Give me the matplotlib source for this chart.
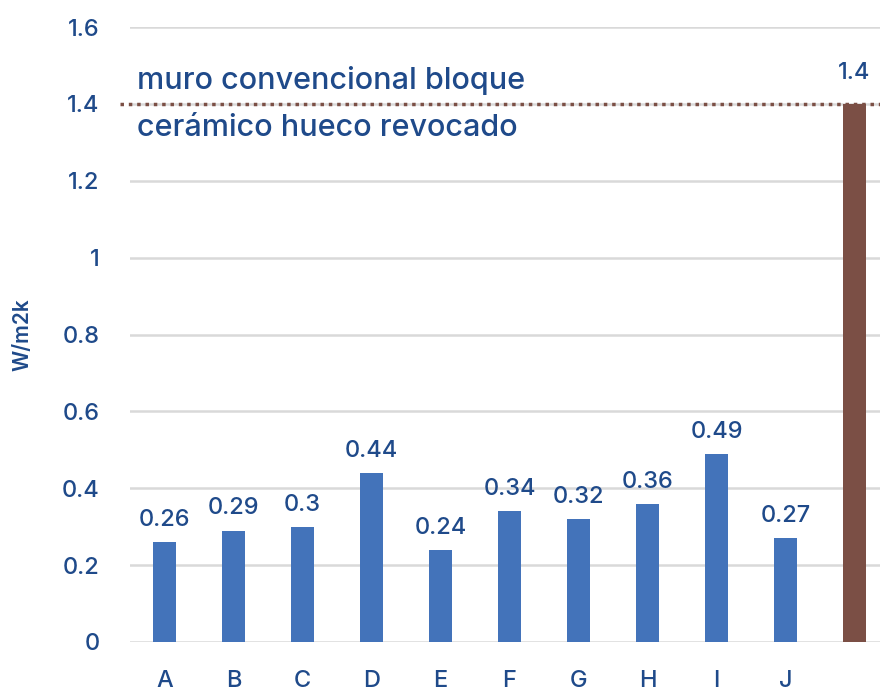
import matplotlib
matplotlib.use("Agg")
import matplotlib.pyplot as plt
import matplotlib.transforms as mtransforms

categories = ["A", "B", "C", "D", "E", "F", "G", "H", "I", "J", ""]
values = [0.26, 0.29, 0.3, 0.44, 0.24, 0.34, 0.32, 0.36, 0.49, 0.27, 1.4]
value_labels = ["0.26", "0.29", "0.3", "0.44", "0.24", "0.34", "0.32", "0.36", "0.49", "0.27", "1.4"]
yticks = [0, 0.2, 0.4, 0.6, 0.8, 1.0, 1.2, 1.4, 1.6]
ytick_labels = ["0", "0.2", "0.4", "0.6", "0.8", "1", "1.2", "1.4", "1.6"]
reference_value = 1.4
reference_text = "muro convencional bloque\ncerámico hueco revocado"

TXT = "#1F4A8A"
BLUE = "#4373BA"
BROWN = "#7B4F45"
GRID = "#D9D9D9"

plt.rcParams['font.family'] = ['Inter', 'DejaVu Sans']

W, H = 880, 693
fig = plt.figure(figsize=(W / 100, H / 100), dpi=100)
x0, x1 = 130, 880
y0, y1 = 642, 27
ax = fig.add_axes([x0 / W, 1 - y0 / H, (x1 - x0) / W, (y0 - y1) / H])

colors = [BLUE] * (len(values) - 1) + [BROWN]
xs = list(range(len(values)))
ax.bar(xs, values, width=0.32, color=colors, zorder=3)

for x, v, lab in zip(xs, values, value_labels):
    ax.annotate(lab, (x, v), xytext=(0, 8 if lab != "1.4" else 14), textcoords="offset points",
                ha="center", va="bottom", fontsize=17, color=TXT, fontweight="medium")

ax.set_xlim(-0.5, -0.5 + (x1 - x0) / 69.0)
ax.set_ylim(0, 1.6)
ax.set_yticks(yticks)
ax.set_yticklabels(ytick_labels, fontsize=17, color=TXT, fontweight="medium")
ax.set_xticks(xs)
ax.set_xticklabels(categories, fontsize=17, color=TXT, fontweight="medium")
ax.tick_params(axis="y", length=0, pad=22)
ax.tick_params(axis="x", length=0, pad=20)
for s in ax.spines.values():
    s.set_visible(False)
ax.yaxis.grid(True, color=GRID, linewidth=1.8, zorder=0)
ax.set_axisbelow(True)

ax.set_ylabel("W/m2k", fontsize=15, color=TXT, fontweight="semibold")
ax.yaxis.set_label_coords((32 - x0) / (x1 - x0), 0.5)

trans = mtransforms.blended_transform_factory(ax.transAxes, ax.transData)
ax.plot([-10 / (x1 - x0), 1.0], [reference_value, reference_value], transform=trans,
        color=BROWN, linestyle=(0, (1, 1.4)), linewidth=2.5, clip_on=False, zorder=4)

ax.text(7 / (x1 - x0), reference_value, reference_text, transform=trans,
        ha="left", va="center", fontsize=22, color=TXT, linespacing=1.85, fontweight="medium")

fig.savefig("out.png", dpi=100)
